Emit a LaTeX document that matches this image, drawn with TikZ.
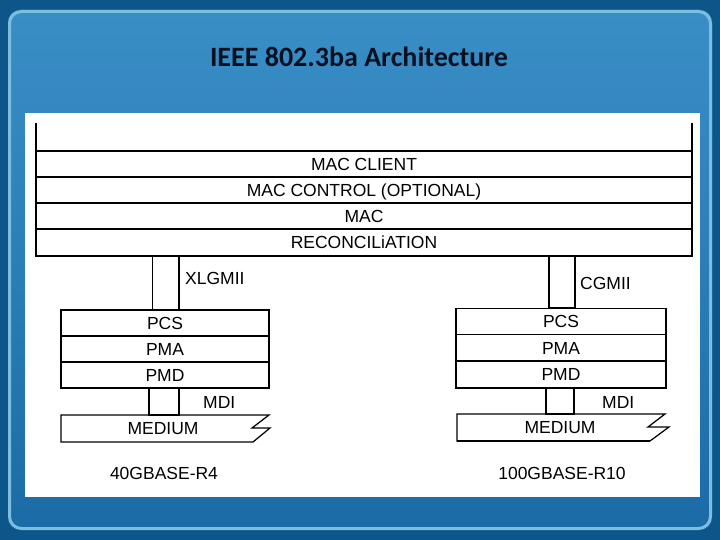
\documentclass[tikz,border=0pt]{standalone}
\usepackage{fontspec}
\setmainfont{Liberation Sans}
\newfontfamily\titlefont{Carlito}
\usetikzlibrary{calc}
\definecolor{outerblue}{HTML}{0D568A}
\definecolor{innertop}{HTML}{3A8EC6}
\definecolor{innerbot}{HTML}{1B6CA6}
\definecolor{rimblue}{HTML}{7DBDE0}
\definecolor{titleink}{HTML}{0A1020}
\tikzset{
  lbl/.style={font=\fontsize{17.5}{20}\selectfont, text height=12.8pt, text depth=0pt, inner sep=0pt},
  stackbox/.style={draw, line width=1.25pt, minimum width=208pt, minimum height=26pt, inner sep=0pt,
    font=\fontsize{17.5}{20}\selectfont, text height=12.8pt, text depth=0pt},
  iface/.style={draw, line width=1.25pt, inner sep=0pt},
  rule/.style={line width=1.25pt},
  frame/.style={line width=2pt},
}
\begin{document}
\begin{tikzpicture}[x=1pt,y=-1pt]
\useasboundingbox (0,0) rectangle (720,540);
% slide background
\fill[outerblue] (0,0) rectangle (720,540);
\shade[top color=innertop, bottom color=innerbot, rounded corners=12pt] (8,10) rectangle (712,530);
\draw[rimblue, line width=3pt, rounded corners=12pt] (9.5,11.5) rectangle (710.5,528.5);
% title
\node[font=\titlefont\bfseries\fontsize{28}{32}\selectfont, text=titleink] (title) at (359,57) {IEEE 802.3ba Architecture};
% white panel
\fill[white] (25,113) rectangle (700,497);
% upper layers
\draw[frame] (36,123) -- (36,256) -- (692,256) -- (692,123);
\foreach \yy in {151,177,203,229} \draw[rule] (36,\yy) -- (692,\yy);
\node[lbl] (client) at (364,164) {MAC CLIENT};
\node[lbl] (control) at (364,190) {MAC CONTROL (OPTIONAL)};
\node[lbl] (mac) at (364,216) {MAC};
\node[lbl] (rec) at (364,242.5) {RECONCILiATION};
% left stack
\node[iface, minimum width=26.5pt, minimum height=54pt] (xlg) at (165.75,283) {};
\node[lbl, anchor=west] (xlglbl) at (185,278) {XLGMII};
\node[stackbox] (pcsL) at (165,323) {PCS};
\node[stackbox] (pmaL) at (165,349) {PMA};
\node[stackbox] (pmdL) at (165,375) {PMD};
\draw[line width=1.7pt] (pcsL.south west) -- (pcsL.south east);
\node[iface, minimum width=30pt, minimum height=27pt] (mdiL) at (164,401.5) {};
\node[lbl, anchor=west] (mdiLlbl) at (203,402) {MDI};
\draw[rule] (61,442) -- (61,415) -- (269,415) -- (252,428) -- (270,428) -- (253,442) -- cycle;
\node[lbl] (medL) at (163,428.5) {MEDIUM};
\node[lbl] (nameL) at (164,473) {40GBASE-R4};
% right stack
\node[iface, minimum width=26pt, minimum height=52pt] (cgm) at (562,282) {};
\node[lbl, anchor=west] (cgmlbl) at (580,283) {CGMII};
\node[stackbox, minimum width=210pt] (pcsR) at (561,321.5) {PCS};
\node[stackbox, minimum width=210pt, minimum height=27pt] (pmaR) at (561,348) {PMA};
\node[stackbox, minimum width=210pt, minimum height=27pt] (pmdR) at (561,374.5) {PMD};
\node[iface, minimum width=28pt, minimum height=26pt] (mdiR) at (560,401) {};
\node[lbl, anchor=west] (mdiRlbl) at (602,402) {MDI};
\draw[rule] (457,441) -- (457,414) -- (665,414) -- (648,427) -- (669,427) -- (650,441) -- cycle;
\draw[line width=2pt] (457,441) -- (650,441);
\node[lbl] (medR) at (560,427.5) {MEDIUM};
\node[lbl] (nameR) at (562,473) {100GBASE-R10};
\end{tikzpicture}
\end{document}
